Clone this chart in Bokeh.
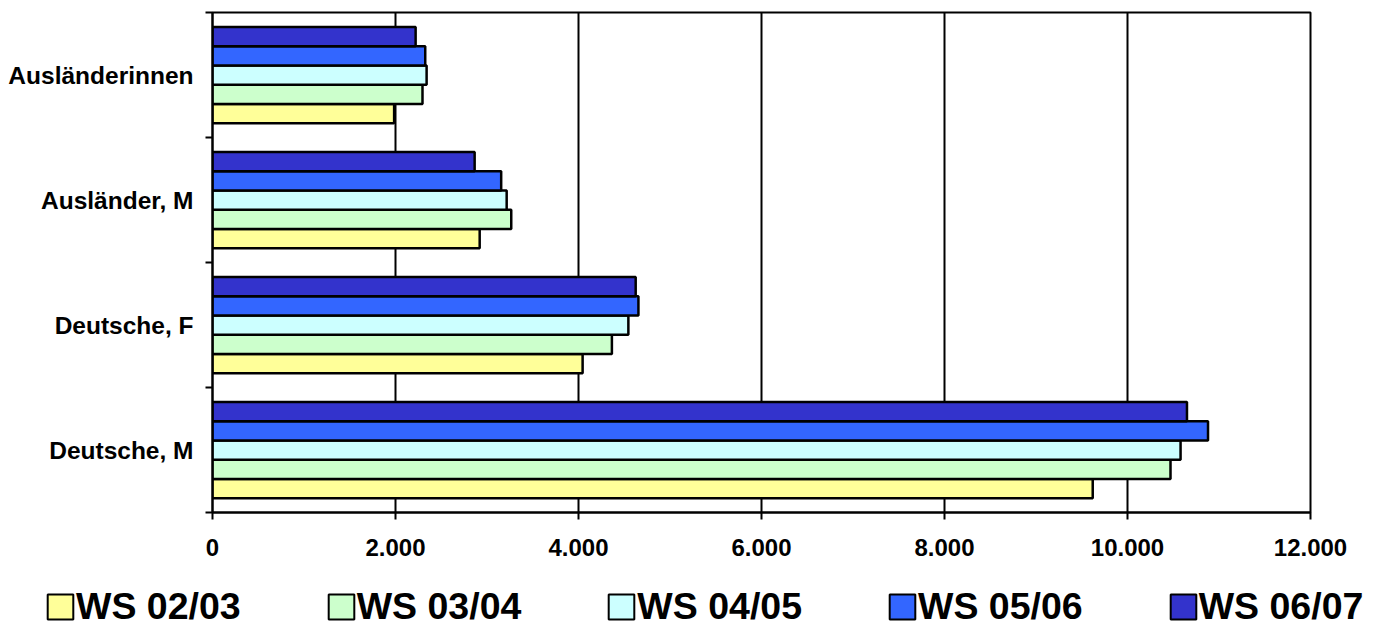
from bokeh.plotting import figure
from bokeh.models import Range1d, FixedTicker, Legend, LegendItem, ColumnDataSource
from bokeh.transform import dodge
from bokeh.embed import file_html
from bokeh.resources import INLINE

# ---- data ----
categories = ["Deutsche, M", "Deutsche, F", "Ausländer, M", "Ausländerinnen"]
series = ["WS 02/03", "WS 03/04", "WS 04/05", "WS 05/06", "WS 06/07"]
ws_02_03 = [9620, 4045, 2920, 1985]
ws_03_04 = [10470, 4365, 3265, 2295]
ws_04_05 = [10580, 4545, 3215, 2340]
ws_05_06 = [10880, 4655, 3155, 2325]
ws_06_07 = [10650, 4625, 2865, 2220]
x_ticks = [0, 2000, 4000, 6000, 8000, 10000, 12000]
x_tick_labels = ["0", "2.000", "4.000", "6.000", "8.000", "10.000", "12.000"]

colors = ["#FFFF99", "#CCFFCC", "#CCFFFF", "#3366FF", "#3333CC"]
values = [ws_02_03, ws_03_04, ws_04_05, ws_05_06, ws_06_07]

pos = [i + 0.5 for i in range(len(categories))]
data = {"cat": categories, "pos": pos}
for s, v in zip(series, values):
    data[s] = v
source = ColumnDataSource(data)

FONT = "Liberation Sans"
MAIN_H = 570
TOTAL_H = 628

p = figure(width=1380, height=MAIN_H, output_backend="svg", toolbar_location=None,
           x_range=Range1d(0, 12000), y_range=Range1d(0, 4),
           min_border_left=212, min_border_right=70, min_border_top=12,
           min_border_bottom=MAIN_H - 512, background_fill_color="white",
           border_fill_color="white")
p.outline_line_color = "black"
p.outline_line_width = 2

bar_h = 0.154
n = len(series)
offsets = [(k - (n - 1) / 2) * bar_h for k in range(n)]
for s, c, off in zip(series, colors, offsets):
    p.hbar(y=dodge("pos", off), right=s, left=0, height=bar_h, source=source,
           fill_color=c, line_color="black", line_width=2.5)

# x axis
xa = p.xaxis[0]
xa.ticker = FixedTicker(ticks=x_ticks, minor_ticks=[])
xa.major_label_overrides = {t: lab for t, lab in zip(x_ticks, x_tick_labels)}
xa.axis_line_color = "black"
xa.axis_line_width = 2
xa.major_tick_in = 0
xa.major_tick_out = 7
xa.major_tick_line_width = 2
xa.major_tick_line_color = "black"
xa.minor_tick_line_color = None
xa.major_label_text_font = FONT
xa.major_label_text_font_style = "bold"
xa.major_label_text_font_size = "24px"
xa.major_label_text_color = "black"
xa.major_label_standoff = 19

# y axis
ya = p.yaxis[0]
ya.ticker = FixedTicker(ticks=pos, minor_ticks=[0, 1, 2, 3, 4])
ya.major_label_overrides = {t: c for t, c in zip(pos, categories)}
ya.axis_line_color = "black"
ya.axis_line_width = 2
ya.major_tick_line_color = None
ya.major_tick_in = 0
ya.major_tick_out = 7
ya.minor_tick_in = 0
ya.minor_tick_out = 7
ya.minor_tick_line_color = "black"
ya.minor_tick_line_width = 2
ya.major_label_text_font = FONT
ya.major_label_text_font_style = "bold"
ya.major_label_text_font_size = "24.5px"
ya.major_label_text_color = "black"
ya.major_label_standoff = 12

# grid
p.xgrid.ticker = FixedTicker(ticks=x_ticks)
p.xgrid.grid_line_color = "black"
p.xgrid.grid_line_width = 2
p.ygrid.visible = False

# legend strip (separate root, so it is not aligned to the chart frame)
lg = figure(width=1380, height=TOTAL_H - MAIN_H, output_backend="svg",
            toolbar_location=None, x_range=Range1d(-20000, -10000),
            y_range=Range1d(100, 101),
            min_border=0, min_border_left=0, min_border_right=0,
            min_border_top=0, min_border_bottom=0,
            background_fill_color="white", border_fill_color="white")
lg.axis.visible = False
lg.grid.visible = False
lg.outline_line_color = None
items = []
for s, c, off in zip(series, colors, offsets):
    # same bars, outside the strip's visible range: only used as legend proxies
    rr = lg.hbar(y=dodge("pos", off), right=s, left=0, height=bar_h, source=source,
                 fill_color=c, line_color="black", line_width=2)
    items.append(LegendItem(label=s, renderers=[rr]))
legend = Legend(items=items, orientation="horizontal", location=(44, 0),
                padding=0, margin=0, spacing=84, label_standoff=0,
                glyph_width=32, glyph_height=31,
                label_text_font=FONT, label_text_font_style="bold",
                label_text_font_size="37.5px", label_text_color="black",
                border_line_color=None, background_fill_alpha=0)
lg.add_layout(legend)

open("out.html", "w").write(file_html([p, lg], INLINE))
